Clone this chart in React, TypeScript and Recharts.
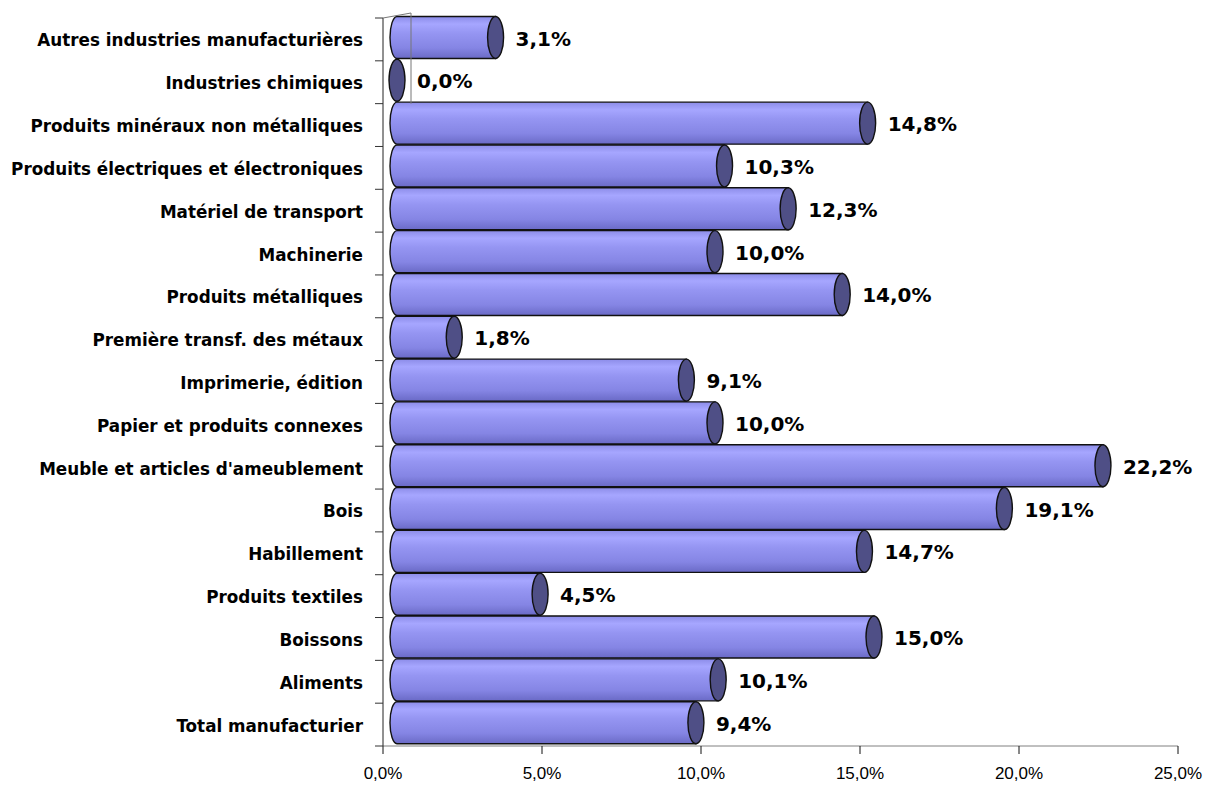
import { Bar, BarChart, LabelList, XAxis, YAxis } from "recharts";

// catégories de haut en bas, comme dans l'original
const CATEGORIES = [
  "Autres industries manufacturières",
  "Industries chimiques",
  "Produits minéraux non métalliques",
  "Produits électriques et électroniques",
  "Matériel de transport",
  "Machinerie",
  "Produits métalliques",
  "Première transf. des métaux",
  "Imprimerie, édition",
  "Papier et produits connexes",
  "Meuble et articles d'ameublement",
  "Bois",
  "Habillement ",
  "Produits textiles",
  "Boissons",
  "Aliments",
  "Total manufacturier",
];

const VALUES = [
  3.1, 0.0, 14.8, 10.3, 12.3, 10.0, 14.0, 1.8, 9.1, 10.0, 22.2, 19.1, 14.7,
  4.5, 15.0, 10.1, 9.4,
];

const X_TICKS = [0, 5, 10, 15, 20, 25];

const data = CATEGORIES.map((name, i) => ({ name, value: VALUES[i] }));

const W = 1210;
const H = 785;
const TOP = 18;
const X_AXIS_H = 39;
const PLOT_H = H - TOP - X_AXIS_H;
const BAND = PLOT_H / CATEGORIES.length;
const DEPTH = 14; // décalage 3D vers la droite
const LIFT = 2; // décalage 3D vers le haut

const fmtPct = (v: number) => `${v.toFixed(1).replace(".", ",")}%`;

function CylinderBar(props: any) {
  const { x, y, width, height } = props;
  const top = y - LIFT + 0.5;
  const bottom = y + height - LIFT - 0.5;
  const mid = (top + bottom) / 2;
  const ry = (bottom - top) / 2;
  const xl = x + DEPTH;
  const xr = x + Math.max(width, 0) + DEPTH;
  return (
    <g>
      {width > 0.5 && (
        <path
          d={`M ${xl} ${top} L ${xr} ${top} L ${xr} ${bottom} L ${xl} ${bottom} A 7 ${ry} 0 0 1 ${xl} ${top} Z`}
          fill="url(#cylBody)"
          stroke="#111"
          strokeWidth={1.4}
        />
      )}
      <ellipse
        cx={xr}
        cy={mid}
        rx={8}
        ry={ry}
        fill="#4f4f86"
        stroke="#111"
        strokeWidth={1.4}
      />
    </g>
  );
}

function ValueLabel(props: any) {
  const { x, y, width, height, value } = props;
  return (
    <text
      x={x + width + 34}
      y={y + height / 2 - 1}
      textAnchor="start"
      dominantBaseline="central"
      fontFamily="DejaVu Sans"
      fontWeight="bold"
      fontSize={20}
      fill="#000"
    >
      {fmtPct(Number(value))}
    </text>
  );
}

function CategoryTick(props: any) {
  const { x, y, payload, index } = props;
  const last = CATEGORIES.length - 1;
  return (
    <g>
      <line x1={x - 8} x2={x} y1={y - BAND / 2} y2={y - BAND / 2} stroke="#333" />
      {index === last && (
        <line x1={x - 8} x2={x} y1={y + BAND / 2} y2={y + BAND / 2} stroke="#333" />
      )}
      {index === 0 && (
        <g stroke="#777" strokeWidth={1}>
          {/* bord supérieur de la paroi du fond */}
          <line x1={x} y1={y - BAND / 2} x2={x + 28} y2={y - BAND / 2 - 5} />
          <line x1={x + 28} y1={y - BAND / 2 - 5} x2={x + 28} y2={y + BAND * 1.5} />
        </g>
      )}
      <text
        x={x - 20}
        y={y + 1}
        textAnchor="end"
        dominantBaseline="central"
        fontFamily="DejaVu Sans"
        fontWeight="bold"
        fontSize={16.8}
        fill="#000"
      >
        {payload.value}
      </text>
    </g>
  );
}

export default function App() {
  return (
    <div style={{ position: "absolute", left: 0, top: 0, width: W, height: H, background: "#fff" }}>
      <BarChart
        width={W}
        height={H}
        data={data}
        layout="vertical"
        barCategoryGap={0}
        margin={{ top: TOP, right: 32, bottom: 0, left: 0 }}
      >
        <defs>
          <linearGradient id="cylBody" x1="0" y1="0" x2="0" y2="1">
            <stop offset="0%" stopColor="#8c8ce8" />
            <stop offset="18%" stopColor="#a6a6ff" />
            <stop offset="40%" stopColor="#9595f2" />
            <stop offset="75%" stopColor="#8585e4" />
            <stop offset="100%" stopColor="#6a6ac6" />
          </linearGradient>
        </defs>
        <XAxis
          type="number"
          domain={[0, 25]}
          ticks={X_TICKS}
          height={X_AXIS_H}
          tickSize={8}
          tickMargin={13}
          tickFormatter={fmtPct}
          axisLine={{ stroke: "#808080" }}
          tickLine={{ stroke: "#111" }}
          tick={{ fill: "#000", fontSize: 17, fontFamily: "Liberation Sans" }}
        />
        <YAxis
          type="category"
          dataKey="name"
          width={383}
          interval={0}
          tickSize={0}
          tickMargin={0}
          tickLine={false}
          axisLine={{ stroke: "#222" }}
          tick={<CategoryTick />}
        />
        <Bar dataKey="value" shape={<CylinderBar />} isAnimationActive={false}>
          <LabelList dataKey="value" content={<ValueLabel />} />
        </Bar>
      </BarChart>
    </div>
  );
}
